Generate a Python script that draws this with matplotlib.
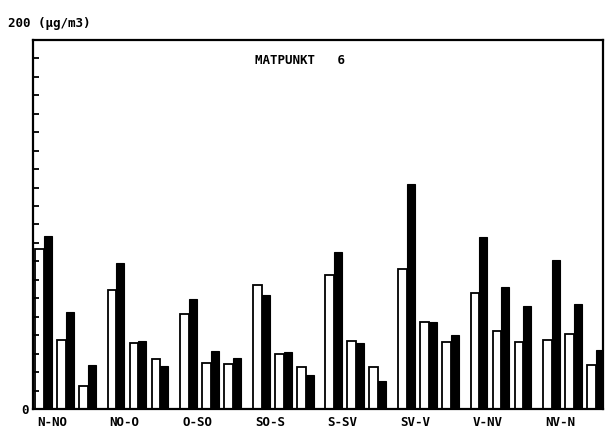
import numpy as np
import matplotlib
matplotlib.use('Agg')
import matplotlib.pyplot as plt

# Wind direction sectors
directions = ['N-NO', 'NO-O', 'O-SO', 'SO-S', 'S-SV', 'SV-V', 'V-NV', 'NV-N']

# Three pairs of bars per sector (open bar / filled bar), values in ug/m3
open_1 = [86.5, 64.5, 51.5, 67.0, 72.4, 75.7, 63.0, 37.3]
filled_1 = [93.7, 79.3, 59.5, 61.6, 85.0, 122.0, 93.3, 81.0]
open_2 = [37.5, 35.7, 25.2, 29.7, 36.9, 47.2, 42.3, 40.5]
filled_2 = [52.4, 36.6, 31.5, 31.0, 36.0, 47.2, 66.0, 57.0]
open_3 = [12.6, 27.0, 24.3, 22.5, 22.9, 36.4, 36.4, 23.8]
filled_3 = [24.0, 23.4, 27.4, 18.4, 15.0, 40.2, 55.9, 32.0]

title = 'MATPUNKT   6'
ymax = 200

font = dict(family='DejaVu Sans Mono', fontweight='bold', fontsize=9)

fig = plt.figure(figsize=(6.05, 4.34), dpi=100)
ax = fig.add_axes([33 / 605, 25 / 434, 570 / 605, 369 / 434])

# layout in pixel-like units along x
group_pitch = 72.6
pair_pitch = 22.0
w_open = 8.8
w_filled = 8.0
x0 = np.arange(len(directions)) * group_pitch + 2

pairs = [(open_1, filled_1), (open_2, filled_2), (open_3, filled_3)]
for j, (o, f) in enumerate(pairs):
    xs = x0 + j * pair_pitch
    ax.bar(xs, o, width=w_open, align='edge', color='white',
           edgecolor='black', linewidth=1.3)
    ax.bar(xs + w_open, f, width=w_filled, align='edge', color='black',
           edgecolor='black', linewidth=0.8)

ax.set_xlim(0, 570)
ax.set_ylim(0, ymax)

for s in ax.spines.values():
    s.set_linewidth(1.6)

ax.set_xticks([])
ax.set_yticks(np.arange(0, ymax + 1, 10))
ax.set_yticklabels([])
ax.tick_params(axis='y', direction='in', length=4, width=1.3)

for x, lab in zip(x0, directions):
    ax.text(x + 2, -4, lab, ha='left', va='top', **font)

fig.text(25 / 605, 1 - 410 / 434, '0', ha='center', va='center', **font)
fig.text(8 / 605, 1 - 24 / 434, '200 (\u00b5g/m3)', ha='left', va='center', **font)
ax.text(255 - 33, ymax - (61 - 40) / 1.845, title, ha='left', va='center', **font)

fig.savefig('out.png', dpi=100)
